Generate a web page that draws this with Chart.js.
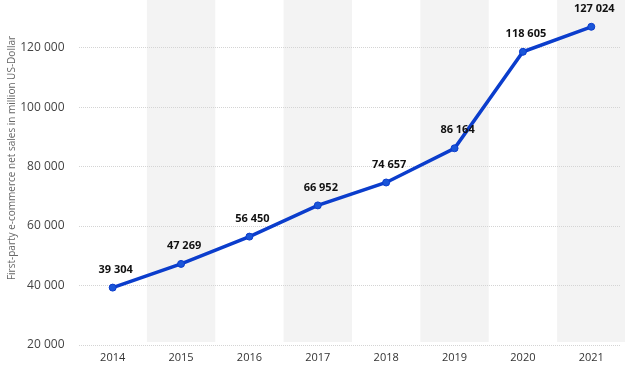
<!DOCTYPE html>
<html>
<head>
<meta charset="utf-8">
<script src="https://cdn.jsdelivr.net/npm/chart.js@4/dist/chart.umd.min.js"></script>
<style>
  html, body { margin: 0; padding: 0; background: #fff; }
  #wrap { width: 625px; height: 367px; position: relative; }
</style>
</head>
<body>
<div id="wrap"><canvas id="chart"></canvas></div>
<script>
const years = [2014, 2015, 2016, 2017, 2018, 2019, 2020, 2021];
const sales = [39304, 47269, 56450, 66952, 74657, 86164, 118605, 127024];
const yTicks = [20000, 40000, 60000, 80000, 100000, 120000];
const axisTitle = 'First-party e-commerce net sales in million US-Dollar';

const fmt = v => String(v).replace(/\B(?=(\d{3})+(?!\d))/g, ' ');
const blue = '#0b3dcc';

// grey bands behind every second year, up to the top edge
const bands = {
  id: 'bands',
  beforeDraw(chart) {
    const {ctx, chartArea, scales: {x}} = chart;
    ctx.save();
    ctx.fillStyle = '#f3f3f3';
    years.forEach((yr, i) => {
      if (i % 2 === 1) {
        const l = x.getPixelForValue(yr - 0.5);
        const r = x.getPixelForValue(yr + 0.5);
        ctx.fillRect(l, 0, r - l, chartArea.bottom - 3);
      }
    });
    ctx.restore();
  }
};

// value labels above the points + rotated axis title
const labels = {
  id: 'labels',
  afterDatasetsDraw(chart) {
    const {ctx} = chart;
    const meta = chart.getDatasetMeta(0);
    ctx.save();
    ctx.font = 'bold 11px "Open Sans", sans-serif';
    ctx.fillStyle = '#111';
    ctx.textAlign = 'center';
    ctx.textBaseline = 'middle';
    meta.data.forEach((pt, i) => {
      ctx.fillText(fmt(sales[i]), pt.x + 3, pt.y - 18);
    });
    ctx.translate(12, 158);
    ctx.rotate(-Math.PI / 2);
    ctx.font = '10px "Open Sans", sans-serif';
    ctx.fillStyle = '#666';
    ctx.fillText(axisTitle, 0, 0);
    ctx.restore();
  }
};

new Chart(document.getElementById('chart'), {
  type: 'line',
  data: {
    datasets: [{
      data: years.map((yr, i) => ({x: yr, y: sales[i]})),
      borderColor: blue,
      backgroundColor: blue,
      borderWidth: 3.5,
      pointRadius: 3.5,
      pointBackgroundColor: '#1a55d8',
      pointBorderColor: blue,
      pointBorderWidth: 1,
      tension: 0,
      clip: 20,
    }],
  },
  options: {
    responsive: true,
    maintainAspectRatio: false,
    animation: false,
    layout: {padding: 0},
    plugins: {legend: {display: false}, tooltip: {enabled: false}},
    scales: {
      x: {
        type: 'linear',
        min: 2013.5,
        max: 2021.42,
        afterBuildTicks: axis => { axis.ticks = years.map(v => ({value: v})); },
        afterFit: axis => { axis.height = 22; },
        grid: {display: false, drawTicks: false},
        border: {display: false},
        ticks: {
          padding: 6,
          color: '#333',
          font: {family: '"Open Sans", sans-serif', size: 11},
          callback: v => String(v),
        },
      },
      y: {
        min: 20000,
        max: 128900,
        afterBuildTicks: axis => { axis.ticks = yTicks.map(v => ({value: v})); },
        afterFit: axis => { axis.width = 78.5; },
        grid: {color: '#d4d4d4', lineWidth: 1, drawTicks: false},
        border: {display: false, dash: [1, 1]},
        ticks: {
          padding: 14,
          color: '#444',
          font: {family: '"Open Sans", sans-serif', size: 12},
          callback: v => fmt(v),
        },
      },
    },
  },
  plugins: [bands, labels],
});
</script>
</body>
</html>
